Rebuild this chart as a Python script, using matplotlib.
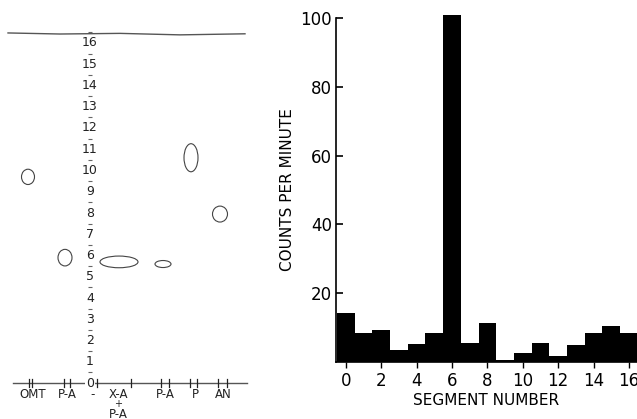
import numpy as np
import matplotlib
matplotlib.use('Agg')
import matplotlib.pyplot as plt
from matplotlib.patches import Ellipse

# right panel: counts per minute in each segment of the strip
segments = np.arange(0, 17)
counts = [14.2, 8.3, 9.3, 3.5, 5.3, 8.3, 101, 5.4, 11.3, 0.6,
          2.6, 5.4, 1.8, 4.9, 8.5, 10.4, 8.5]

# left panel: chromatogram drawing
lane_names = ['OMT', 'P-A', '-', 'X-A', 'P-A', 'P', 'AN']
lane_x = [33, 67, 93, 118, 165, 195, 223]
# origin tick pairs along the start line
lane_ticks = [(29, 32), (64, 70), (97, 131), (161, 169), (190, 197), (218, 227)]
# spot centres (lane x, segment) and size (width in x, height in segments)
spot_x = [28, 65, 119, 163, 191, 220]
spot_seg = [9.7, 5.9, 5.7, 5.6, 10.6, 7.95]
spot_w = [13, 14, 38, 16, 14, 15]
spot_h = [0.72, 0.78, 0.55, 0.33, 1.32, 0.75]
# solvent front
front_x = [8, 60, 120, 180, 245]
front_seg = [16.47, 16.42, 16.45, 16.38, 16.43]

ink = '#222222'
fig = plt.figure(figsize=(6.37, 4.19), dpi=100)

# ---- left: paper strip drawing
ax1 = fig.add_axes([0, 0, 260 / 637, 1])
ax1.set_xlim(0, 260)
ax1.set_ylim(-1.69, 18.02)
ax1.axis('off')

ax1.plot([13, 247], [0, 0], color='#555555', lw=1.0)
for a, b in lane_ticks:
    for t in (a, b):
        ax1.plot([t, t], [-0.17, 0.17], color=ink, lw=0.9)
ax1.plot(front_x, front_seg, color='#555555', lw=1.0)

for k in range(17):
    kw = {}
    if k == 0:
        kw['bbox'] = dict(facecolor='white', edgecolor='none', pad=0.5)
    ax1.text(90, k, str(k), ha='center', va='center', fontsize=9,
             color=ink, **kw)
ax1.plot(np.full(17, 90), np.arange(0.5, 17, 1), ls='none', marker='_',
         ms=3, color='#666666', mew=0.8)

for name, x in zip(lane_names, lane_x):
    ax1.text(x, -0.56, name, ha='center', va='center', fontsize=8.5, color=ink)
ax1.text(lane_x[3], -0.99, '+', ha='center', va='center', fontsize=7, color=ink)
ax1.text(lane_x[3], -1.47, 'P-A', ha='center', va='center', fontsize=8.5,
         color=ink)

for x, s, w, h in zip(spot_x, spot_seg, spot_w, spot_h):
    ax1.add_patch(Ellipse((x, s), w, h, facecolor='none',
                          edgecolor='#444444', lw=0.8))

# ---- right: bar chart
ax2 = fig.add_axes([336 / 637, 57 / 419, 1 - 336 / 637, 344 / 419])
ax2.bar(segments, counts, width=1.0, color='black', clip_on=False)
ax2.set_xlim(-0.55, 16.45)
ax2.set_ylim(0, 100)
ax2.spines['top'].set_visible(False)
ax2.spines['right'].set_visible(False)
ax2.spines['left'].set_linewidth(1.2)
ax2.spines['bottom'].set_linewidth(1.2)
ax2.set_yticks([20, 40, 60, 80, 100])
ax2.set_xticks(range(0, 17, 2))
ax2.tick_params(axis='y', direction='in', length=5, width=1.2, labelsize=12,
                pad=3)
ax2.tick_params(axis='x', direction='out', length=4, width=1.0, labelsize=12,
                pad=3)
ax2.set_ylabel('COUNTS PER MINUTE', fontsize=11, labelpad=4)
ax2.set_xlabel('SEGMENT NUMBER', fontsize=11, labelpad=2)

plt.savefig('out.png', dpi=100)
